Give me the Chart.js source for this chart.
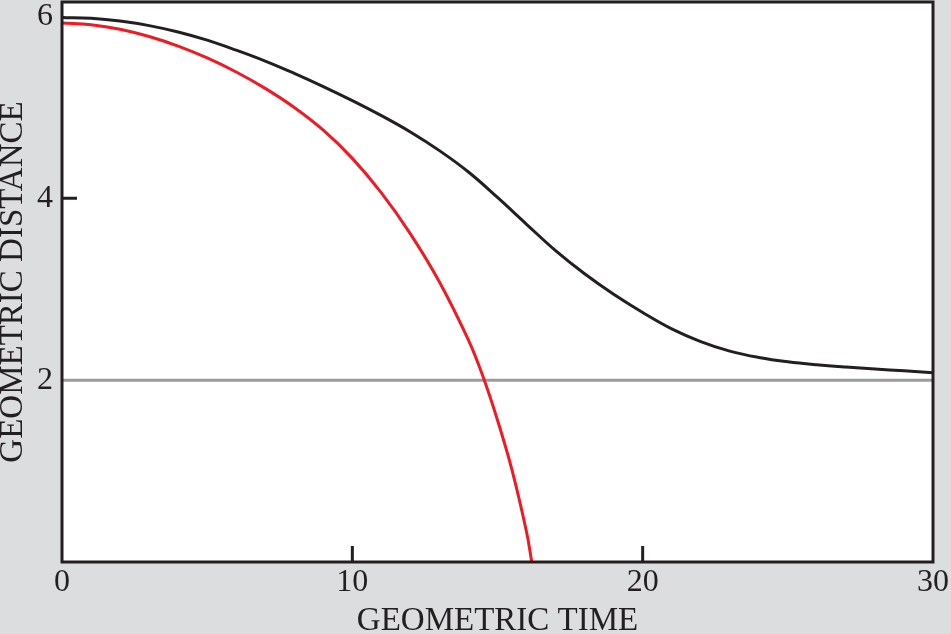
<!DOCTYPE html>
<html>
<head>
<meta charset="utf-8">
<script src="https://cdn.jsdelivr.net/npm/chart.js@4.4.1/dist/chart.umd.min.js"></script>
<style>
html,body{margin:0;padding:0;background:#dcdddf;}
#wrap{width:951px;height:634px;position:relative;}
</style>
</head>
<body>
<div id="wrap"><canvas id="c"></canvas></div>
<script>
// Black curve (GEOMETRIC DISTANCE vs GEOMETRIC TIME)
const blackTime = [0,1,2,3,4,5,6,7,8,9,10,11,12,13,14,15,16,17,18,19,20,21,22,23,24,25,26,27,28,29,30];
const blackDistance = [5.99,5.98,5.95,5.90,5.83,5.74,5.63,5.51,5.375,5.23,5.075,4.91,4.73,4.525,4.29,4.01,3.715,3.425,3.17,2.945,2.745,2.565,2.425,2.32,2.25,2.202,2.169,2.144,2.123,2.103,2.083];
// Red curve
const redTime = [0,1,2,3,4,5,6,7,8,9,10,11,12,13,14,14.5,15,15.5,16,16.18];
const redDistance = [5.93,5.91,5.86,5.78,5.675,5.545,5.39,5.21,5.00,4.75,4.44,4.06,3.61,3.08,2.44,2.04,1.56,1.01,0.33,0];
// Gray horizontal line at distance 2
const horizonTime = [0,30];
const horizonDistance = [2,2];
// Tick labels and tick marks
const xTickLabels = [0,10,20,30];
const yTickLabels = [2,4,6];
const xTickMarks = [10,20];
const yTickMarks = [4];

const toPts = (xs, ys) => xs.map((x,i)=>({x:x, y:ys[i]}));

const frame = {
  id:'frame',
  beforeDatasetsDraw(chart){
    const {ctx, chartArea:a} = chart;
    ctx.save();
    ctx.fillStyle = '#ffffff';
    ctx.fillRect(a.left, a.top, a.right-a.left, a.bottom-a.top);
    ctx.restore();
  },
  afterDatasetsDraw(chart){
    const {ctx, chartArea:a, scales} = chart;
    ctx.save();
    ctx.strokeStyle = '#231f20';
    ctx.lineWidth = 3;
    ctx.beginPath();
    xTickMarks.forEach(v=>{
      const px = scales.x.getPixelForValue(v);
      ctx.moveTo(px, a.bottom);
      ctx.lineTo(px, a.bottom-16);
    });
    yTickMarks.forEach(v=>{
      const py = scales.y.getPixelForValue(v);
      ctx.moveTo(a.left, py);
      ctx.lineTo(a.left+15, py);
    });
    ctx.stroke();
    ctx.strokeRect(a.left, a.top, a.right-a.left, a.bottom-a.top);
    ctx.restore();
  }
};

const tickFont = {family:'"Liberation Serif", serif', size:32};
const titleFont = {family:'"Liberation Serif", serif', size:33, lineHeight:0.7};

new Chart(document.getElementById('c'), {
  type:'line',
  data:{
    datasets:[
      {data:toPts(redTime, redDistance), borderColor:'#ed1c24', borderWidth:3, pointRadius:0, tension:0.4, order:1},
      {data:toPts(blackTime, blackDistance), borderColor:'#231f20', borderWidth:3, pointRadius:0, tension:0.4, order:2},
      {data:toPts(horizonTime, horizonDistance), borderColor:'#9a9b9e', borderWidth:3, pointRadius:0, order:3}
    ]
  },
  options:{
    responsive:true,
    maintainAspectRatio:false,
    animation:false,
    events:[],
    layout:{padding:{left:0, top:2, right:18, bottom:0}},
    plugins:{legend:{display:false}, tooltip:{enabled:false}},
    scales:{
      x:{
        type:'linear', min:0, max:30,
        grid:{display:false, drawTicks:false},
        border:{display:false},
        afterBuildTicks(s){ s.ticks = xTickLabels.map(v=>({value:v})); },
        ticks:{font:tickFont, color:'#231f20', padding:1, maxRotation:0, autoSkip:false, callback:(v)=>String(v)},
        title:{display:true, text:'GEOMETRIC TIME', font:titleFont, color:'#231f20', padding:{top:0, bottom:1.5}},
        afterFit(s){ s.height = 72; s.paddingLeft = 0; s.paddingRight = 0; }
      },
      y:{
        type:'linear', min:0, max:6.16,
        grid:{display:false, drawTicks:false},
        border:{display:false},
        afterBuildTicks(s){ s.ticks = yTickLabels.map(v=>({value:v})); },
        ticks:{font:tickFont, color:'#231f20', padding:9, autoSkip:false, callback:(v)=>String(v)},
        title:{display:true, text:'GEOMETRIC DISTANCE', font:titleFont, color:'#231f20', padding:{top:2, bottom:0}},
        afterFit(s){ s.width = 62; s.paddingTop = 0; s.paddingBottom = 0; }
      }
    }
  },
  plugins:[frame]
});
</script>
</body>
</html>
